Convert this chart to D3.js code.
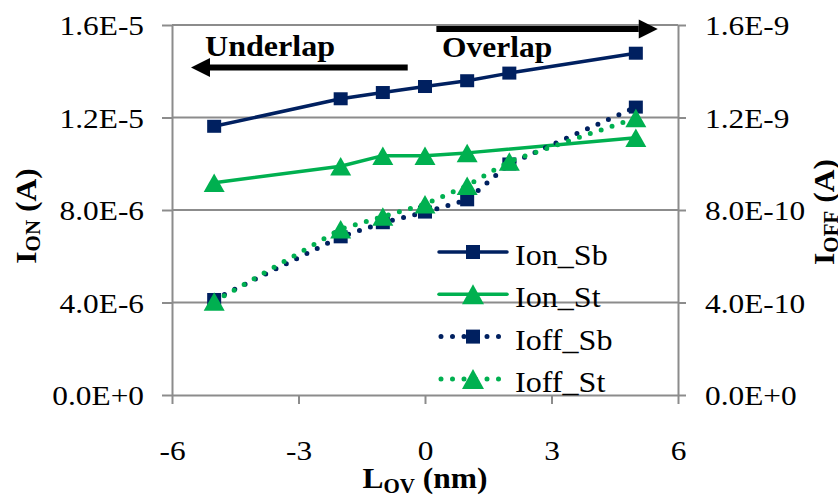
<!DOCTYPE html>
<html>
<head>
<meta charset="utf-8">
<script src="https://cdn.jsdelivr.net/npm/d3@7"></script>
<style>
  body { margin: 0; background: #fff; }
  svg { display: block; }
</style>
</head>
<body>
<svg id="chart" width="838" height="495"></svg>
<script>
// Overlap length (nm) sweep
const lov   = [-5, -2, -1, 0, 1, 2, 5];
const lovSt = [-5, -2, -1, 0, 1, 5];

// On-state currents (A), primary axis
const ionSb = [11.62e-6, 12.81e-6, 13.08e-6, 13.34e-6, 13.59e-6, 13.92e-6, 14.78e-6];
const ionSt = [9.18e-6, 9.89e-6, 10.35e-6, 10.35e-6, 10.47e-6, 11.12e-6];

// Off-state currents (A), secondary axis
const ioffSb = [4.13e-10, 6.84e-10, 7.45e-10, 7.91e-10, 8.44e-10, 9.99e-10, 12.45e-10];
const ioffSt = [4.04e-10, 7.17e-10, 7.72e-10, 8.25e-10, 9.05e-10, 10.1e-10, 11.98e-10];

const xTicks = [-6, -3, 0, 3, 6];
const xLabels = ["-6", "-3", "0", "3", "6"];
const yTicks = [0, 4e-6, 8e-6, 1.2e-5, 1.6e-5];
const y2Ticks = [0, 4e-10, 8e-10, 1.2e-9, 1.6e-9];
const yLabels = ["0.0E+0", "4.0E-6", "8.0E-6", "1.2E-5", "1.6E-5"];
const y2Labels = ["0.0E+0", "4.0E-10", "8.0E-10", "1.2E-9", "1.6E-9"];

const seriesNames = ["Ion_Sb", "Ion_St", "Ioff_Sb", "Ioff_St"];

const FONT = '"Liberation Serif", "Times New Roman", Times, serif';
const NAVY = "#002060", GREEN = "#00b050", GRID = "#8c8c8c";
const L = 172, R = 678, T = 25, B = 395;
const SX = 1.12;       // horizontal stretch of the tick lettering
const svg = d3.select("#chart");

const x = d3.scaleLinear().domain([-6, 6]).range([L, R]);
const y = d3.scaleLinear().domain([0, 1.6e-5]).range([B, T]);
const y2 = d3.scaleLinear().domain([0, 1.6e-9]).range([B, T]);

// horizontal gridlines
svg.append("g").selectAll("line").data(yTicks.filter(d => d > 0)).join("line")
  .attr("x1", L).attr("x2", R).attr("y1", d => y(d)).attr("y2", d => y(d))
  .attr("stroke", GRID).attr("stroke-width", 2);

function styleAxis(g) {
  g.selectAll("path.domain").attr("stroke", GRID).attr("stroke-width", 2);
  g.selectAll(".tick line").attr("stroke", GRID).attr("stroke-width", 2);
  g.selectAll(".tick text").attr("fill", "#000")
    .style("font-family", FONT).style("font-size", "28px");
}

// left axis
const gl = svg.append("g").attr("transform", `translate(${L},0)`)
  .call(d3.axisLeft(y).tickValues(yTicks).tickSize(10).tickSizeOuter(0)
    .tickFormat((d, i) => yLabels[i]));
styleAxis(gl);
gl.selectAll(".tick text").attr("x", -28 / SX).attr("dy", "0.34em")
  .attr("transform", `scale(${SX},1)`);

// right axis
const gr = svg.append("g").attr("transform", `translate(${R},0)`)
  .call(d3.axisRight(y2).tickValues(y2Ticks).tickSize(8).tickSizeOuter(0)
    .tickFormat((d, i) => y2Labels[i]));
styleAxis(gr);
gr.selectAll(".tick text").attr("x", 27 / SX).attr("dy", "0.34em")
  .attr("transform", `scale(${SX},1)`);

// bottom axis
const gb = svg.append("g").attr("transform", `translate(0,${B})`)
  .call(d3.axisBottom(x).tickValues(xTicks).tickSize(9).tickSizeOuter(0)
    .tickFormat((d, i) => xLabels[i]));
styleAxis(gb);
gb.selectAll(".tick text").attr("y", 65).attr("dy", 0)
  .attr("transform", `scale(${SX},1)`);

// axis titles with subscripts
function subTitle(g, main, sub, rest, big, small, drop) {
  const t = g.append("text").attr("text-anchor", "middle").attr("fill", "#000")
    .style("font-family", FONT).style("font-weight", "bold").style("font-size", big + "px");
  t.append("tspan").text(main);
  t.append("tspan").style("font-size", small + "px").attr("dy", drop).text(sub);
  t.append("tspan").attr("dy", -drop).text(rest);
  return t;
}
subTitle(svg.append("g").attr("transform", "translate(425,488) scale(1.05,1)"),
  "L", "OV", " (nm)", 30, 20, 5);
subTitle(svg.append("g").attr("transform", "translate(36,216) rotate(-90) scale(1.05,1)"),
  "I", "ON", " (A)", 30, 20, 4);
subTitle(svg.append("g").attr("transform", "translate(834,212) rotate(-90) scale(1.05,1)"),
  "I", "OFF", " (A)", 30, 20, 4);

// series
const line = (xs, ys, sc) => d3.line().x((d, i) => x(xs[i])).y(d => sc(d))(ys);
const SQ_W = 14, SQ_H = 13, TRI_W = 21, TRI_H = 18.5;
const triPath = `M0,${-TRI_H / 2}L${TRI_W / 2},${TRI_H / 2}L${-TRI_W / 2},${TRI_H / 2}Z`;

function drawSeries(xs, ys, sc, color, dotted, shape) {
  const g = svg.append("g");
  g.append("path").attr("d", line(xs, ys, sc)).attr("fill", "none")
    .attr("stroke", color)
    .attr("stroke-width", dotted ? 5 : 3.5)
    .attr("stroke-linecap", dotted ? "round" : "butt")
    .attr("stroke-linejoin", "round")
    .attr("stroke-dasharray", dotted ? "0 11.5" : null);
  const pts = g.selectAll("g.pt").data(ys).join("g")
    .attr("transform", (d, i) => `translate(${x(xs[i])},${sc(d)})`);
  if (shape === "square") {
    pts.append("rect").attr("x", -SQ_W / 2).attr("y", -SQ_H / 2)
      .attr("width", SQ_W).attr("height", SQ_H).attr("fill", color);
  } else {
    pts.append("path").attr("d", triPath).attr("fill", color);
  }
}
drawSeries(lov, ionSb, y, NAVY, false, "square");
drawSeries(lovSt, ionSt, y, GREEN, false, "triangle");
drawSeries(lov, ioffSb, y2, NAVY, true, "square");
drawSeries(lov, ioffSt, y2, GREEN, true, "triangle");

// legend
const legend = svg.append("g");
const legendStyle = [
  { color: NAVY, dotted: false, shape: "square" },
  { color: GREEN, dotted: false, shape: "triangle" },
  { color: NAVY, dotted: true, shape: "square" },
  { color: GREEN, dotted: true, shape: "triangle" }
];
seriesNames.forEach((name, i) => {
  const s = legendStyle[i];
  const cy = 252 + i * 42.3;
  const g = legend.append("g").attr("transform", `translate(0,${cy})`);
  g.append("line").attr("x1", s.dotted ? 441 : 439).attr("x2", 507).attr("y1", 0).attr("y2", 0)
    .attr("stroke", s.color).attr("stroke-width", s.dotted ? 5 : 3.5)
    .attr("stroke-linecap", "round")
    .attr("stroke-dasharray", s.dotted ? "0 11.5" : null);
  const m = g.append("g").attr("transform", "translate(473,0)");
  if (s.shape === "square") {
    m.append("rect").attr("x", -7).attr("y", -7).attr("width", 14).attr("height", 14).attr("fill", s.color);
  } else {
    m.append("path").attr("d", "M0,-10L11,10L-11,10Z").attr("fill", s.color);
  }
  g.append("text").attr("transform", "translate(515,13) scale(1.07,1)").attr("fill", "#000")
    .style("font-family", FONT).style("font-size", "30px").text(name);
});

// Underlap / Overlap direction arrows
function arrow(x0, x1, yv) {
  const dir = Math.sign(x1 - x0);
  const px0 = x(x0), px1 = x(x1), py = y(yv);
  const head = 19, half = 9.5;
  svg.append("line").attr("x1", px0).attr("x2", px1 - dir * head)
    .attr("y1", py).attr("y2", py).attr("stroke", "#000").attr("stroke-width", 6);
  svg.append("path")
    .attr("d", `M${px1},${py}L${px1 - dir * head},${py - half}L${px1 - dir * head},${py + half}Z`)
    .attr("fill", "#000");
}
arrow(-0.41, -5.55, 14.16e-6);
arrow(0.27, 5.52, 15.83e-6);

svg.append("text").attr("transform", "translate(205,56) scale(1.07,1)").attr("fill", "#000")
  .style("font-family", FONT).style("font-size", "30px").style("font-weight", "bold").text("Underlap");
svg.append("text").attr("transform", "translate(442,57) scale(1.05,1)").attr("fill", "#000")
  .style("font-family", FONT).style("font-size", "30px").style("font-weight", "bold").text("Overlap");
</script>
</body>
</html>
